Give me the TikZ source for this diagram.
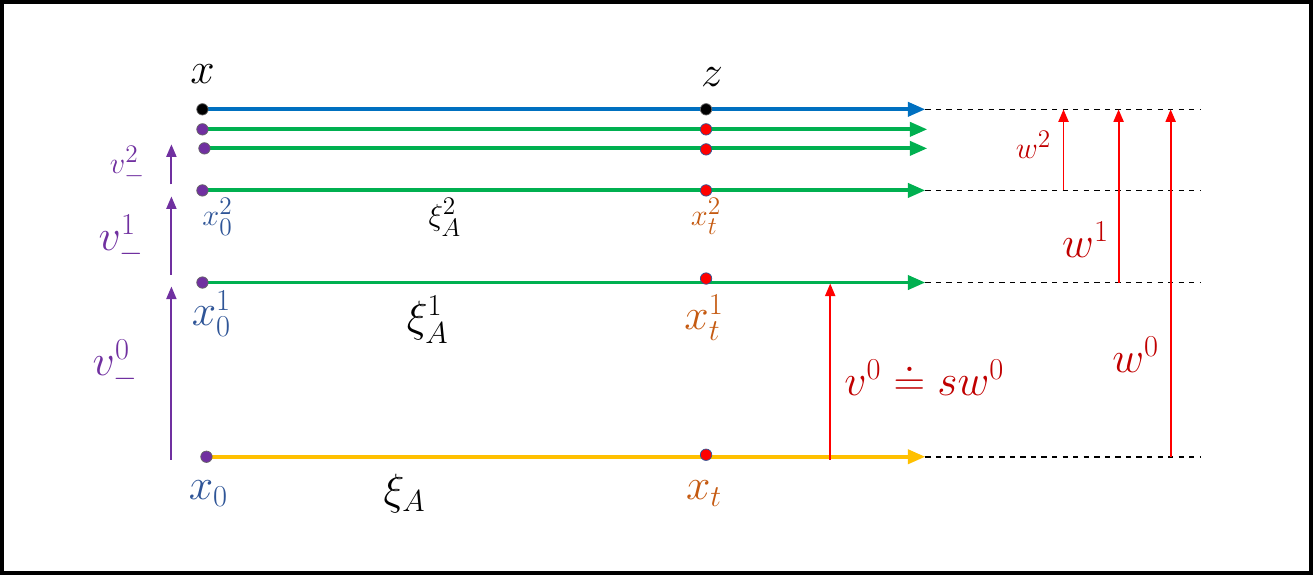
\documentclass[tikz,border=0pt]{standalone}
\usepackage{amsmath}
\usetikzlibrary{arrows.meta, backgrounds}
\definecolor{lblue}{HTML}{0070C0}
\definecolor{lgreen}{HTML}{00B050}
\definecolor{lyellow}{HTML}{FFC000}
\definecolor{lred}{HTML}{FF0000}
\definecolor{dred}{HTML}{C00000}
\definecolor{lpurple}{HTML}{7030A0}
\definecolor{tblue}{HTML}{2F5597}
\definecolor{torange}{HTML}{C55A11}
\begin{document}
\begin{tikzpicture}[
    x=0.02cm, y=-0.02cm,
    track/.style={line width=2.2pt, -{Triangle[length=3.5mm, width=2.8mm]}},
    ext/.style={dashed, line width=0.9pt},
    pt/.style={circle, fill=lpurple, draw=black!60, inner sep=0pt, minimum size=6.5pt},
    hit/.style={circle, fill=lred, draw=tblue, inner sep=0pt, minimum size=6.5pt},
    rise/.style={lred, line width=1.1pt, -{Triangle[length=2.5mm, width=2mm]}},
    lift/.style={lpurple, line width=1.1pt, -{Triangle[length=2.5mm, width=2mm]}},
    big/.style={font=\fontsize{23}{26}\selectfont},
    mid/.style={font=\fontsize{19}{22}\selectfont},
]
\draw[line width=2.5pt] (3,3) rectangle (1310,573);

% start points and crossing points
\node[pt, fill=black] (a0) at (203,110) {};
\node[pt, fill=black] (b0) at (706,110) {};
\node[pt] (a1) at (203,130) {};
\node[hit] (b1) at (706,130) {};
\node[pt] (a2) at (205,149) {};
\node[hit] (b2) at (706,150) {};
\node[pt] (a3) at (203,191) {};
\node[hit] (b3) at (706,191) {};
\node[pt] (a4) at (203,283) {};
\node[hit] (b4) at (706,279) {};
\node[pt] (a5) at (207,457) {};
\node[hit] (b5) at (706,455) {};

% end points
\coordinate (e0) at (925,110);
\coordinate (e1) at (927,130);
\coordinate (e2) at (927,149);
\coordinate (e3) at (925,191);
\coordinate (e4) at (925,283);
\coordinate (e5) at (925,457);
\coordinate (f0) at (1200,110);
\coordinate (f3) at (1200,191);
\coordinate (f4) at (1200,283);
\coordinate (f5) at (1200,457);

% tracks
\begin{scope}[on background layer]
\draw[track, lblue] (a0.center) -- (e0);
\draw[track, lgreen] (a1.center) -- (e1);
\draw[track, lgreen] (a2.center) -- (e2);
\draw[track, lgreen] (a3.center) -- (e3);
\draw[track, lgreen] (a4.center) -- (e4);
\draw[track, lyellow] (a5.center) -- (e5);
\draw[ext] (e0) -- (f0);
\draw[ext] (e3) -- (f3);
\draw[ext] (e4) -- (f4);
\draw[ext] (e5) -- (f5);
\end{scope}

% vertical arrows
\coordinate (w2s) at (1063,191);
\coordinate (w2e) at (1063,110);
\coordinate (w1s) at (1118,283);
\coordinate (w1e) at (1118,110);
\coordinate (w0s) at (1170,457);
\coordinate (w0e) at (1170,110);
\coordinate (vs) at (830,460);
\coordinate (ve) at (830,284);
\draw[rise] (w2s) -- (w2e);
\draw[rise] (w1s) -- (w1e);
\draw[rise] (w0s) -- (w0e);
\draw[rise] (vs) -- (ve);
\coordinate (u2s) at (172,185);
\coordinate (u2e) at (172,145);
\coordinate (u1s) at (172,275);
\coordinate (u1e) at (172,197);
\coordinate (u0s) at (172,460);
\coordinate (u0e) at (172,287);
\draw[lift] (u2s) -- (u2e);
\draw[lift] (u1s) -- (u1e);
\draw[lift] (u0s) -- (u0e);

% labels
\node[big] (lx) at (203,75) {$x$};
\node[big] (lz) at (712,78) {$z$};
\node[mid, tblue] (lx02) at (218,217) {$x_0^2$};
\node[mid] (lxi2) at (445,218) {$\xi_A^2$};
\node[mid, torange] (lxt2) at (706,217) {$x_t^2$};
\node[big, tblue] (lx01) at (212,314) {$x_0^1$};
\node[big] (lxi1) at (428,320) {$\xi_A^1$};
\node[big, torange] (lxt1) at (704,318) {$x_t^1$};
\node[big, tblue] (lx0) at (209,494) {$x_0$};
\node[big] (lxi) at (405,494) {$\xi_A$};
\node[big, torange] (lxt) at (704,494) {$x_t$};
\node[mid, lpurple] (lv2) at (128,166) {$v_-^2$};
\node[big, lpurple] (lv1) at (122,240) {$v_-^1$};
\node[big, lpurple] (lv0) at (116,365) {$v_-^0$};
\node[mid, dred] (lw2) at (1033,145) {$w^2$};
\node[big, dred] (lw1) at (1085,240) {$w^1$};
\node[big, dred] (lw0) at (1135,355) {$w^0$};
\node[big, dred, anchor=west] (lv) at (838,378) {$v^0 \doteq s w^0$};
\end{tikzpicture}
\end{document}
